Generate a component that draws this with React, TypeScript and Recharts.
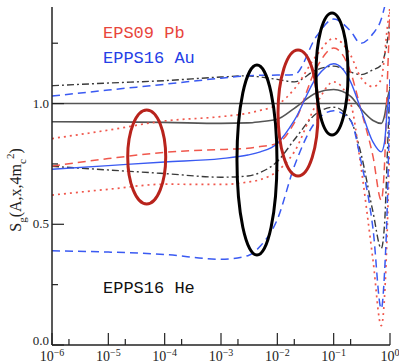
import React from "react";
import {
  LineChart,
  Line,
  XAxis,
  YAxis,
  ReferenceLine,
  ReferenceDot,
  Customized,
} from "recharts";

// x values (Bjorken x) and S_g ratios
const xs = [1e-6, 1e-5, 1e-4, 1e-3, 3e-3, 5e-3, 1e-2, 2e-2, 5e-2, 0.1, 0.2, 0.3, 0.5, 0.7, 0.8, 0.9, 1.0];

const heCentral = [0.925, 0.924, 0.922, 0.918, 0.92, 0.925, 0.935, 0.98, 1.045, 1.058, 1.03, 0.98, 0.93, 0.918, 0.95, 1.02, 1.06];
const heUpper = [1.074, 1.085, 1.095, 1.11, 1.115, 1.11, 1.1, 1.09, 1.14, 1.155, 1.13, 1.12, 1.14, 1.16, 1.2, 1.26, 1.35];
const heLower = [0.74, 0.725, 0.71, 0.695, 0.7, 0.715, 0.76, 0.85, 0.96, 0.985, 0.93, 0.8, 0.55, 0.4, 0.5, 0.8, 1.1];

const pbCentral = [0.741, 0.772, 0.798, 0.81, 0.815, 0.822, 0.835, 0.92, 1.15, 1.23, 1.13, 0.98, 0.78, 0.6, 0.75, 1.1, 1.38];
const pbUpper = [0.855, 0.89, 0.928, 0.946, 0.96, 0.972, 0.995, 1.06, 1.2, 1.27, 1.2, 1.11, 1.07, 1.1, 1.2, 1.32, 1.4];
const pbLower = [0.621, 0.645, 0.666, 0.665, 0.675, 0.685, 0.72, 0.8, 1.0, 1.09, 1.0, 0.75, 0.35, 0.08, 0.2, 0.5, 0.9];

const auCentral = [0.728, 0.743, 0.758, 0.772, 0.787, 0.8, 0.835, 0.93, 1.11, 1.165, 1.09, 0.98, 0.84, 0.8, 0.84, 0.98, 1.05];
const auUpper = [1.031, 1.056, 1.08, 1.105, 1.115, 1.117, 1.118, 1.12, 1.28, 1.35, 1.3, 1.25, 1.29, 1.35, 1.4, 1.45, 1.5];
const auLower = [0.39, 0.385, 0.375, 0.355, 0.37, 0.41, 0.52, 0.74, 0.93, 0.97, 0.93, 0.77, 0.48, 0.15, 0.3, 0.6, 1.1];

// highlighted regions: centre (x, S_g)
const ellipseX = [4.8e-5, 4.35e-3, 0.0233, 0.0935];
const ellipseY = [0.779, 0.766, 0.961, 1.123];

const xMajor = [1e-6, 1e-5, 1e-4, 1e-3, 1e-2, 1e-1, 1];
const xMinor = [2e-6, 2e-5, 2e-4, 2e-3, 2e-2, 2e-1];
const yMajor = [0, 0.5, 1.0];
const yMinor = [0.25, 0.75, 1.25];

const data = xs.map((x, i) => ({
  x,
  heC: heCentral[i],
  heU: heUpper[i],
  heL: heLower[i],
  pbC: pbCentral[i],
  pbU: pbUpper[i],
  pbL: pbLower[i],
  auC: auCentral[i],
  auU: auUpper[i],
  auL: auLower[i],
}));

const xTicks = [...xMajor, ...xMinor].sort((a, b) => a - b);
const yTicks = [...yMajor, ...yMinor].sort((a, b) => a - b);

const RED = "#f0574c";
const BLUE = "#3a5af2";
const BLACK = "#3a3a3a";
const SERIF = "'Liberation Serif', 'DejaVu Serif', serif";
const MONO = "'Liberation Mono', 'DejaVu Sans Mono', monospace";

const isMajorX = (v: number) => xMajor.some((m) => Math.abs(Math.log10(v) - Math.log10(m)) < 1e-6);
const isMajorY = (v: number) => yMajor.some((m) => Math.abs(v - m) < 1e-6);

function BottomTick(props: any) {
  const { x, y, payload } = props;
  const major = isMajorX(payload.value);
  const exp = Math.round(Math.log10(payload.value));
  return (
    <g>
      <line x1={x} x2={x} y1={y} y2={y - (major ? 12 : 6)} stroke="#222" strokeWidth={1.2} />
      {major && (
        <text x={x} y={y + 16} textAnchor="middle" fontFamily={SERIF} fontSize={14} fill="#222">
          10
          <tspan dy={-5} fontSize={10}>
            {exp < 0 ? "\u2212" + Math.abs(exp) : String(exp)}
          </tspan>
        </text>
      )}
    </g>
  );
}

function TopTick(props: any) {
  const { x, y, payload } = props;
  const major = isMajorX(payload.value);
  return <line x1={x} x2={x} y1={y} y2={y + (major ? 12 : 6)} stroke="#222" strokeWidth={1.2} />;
}

function LeftTick(props: any) {
  const { x, y, payload } = props;
  const major = isMajorY(payload.value);
  return (
    <g>
      <line x1={x} x2={x + (major ? 12 : 6)} y1={y} y2={y} stroke="#222" strokeWidth={1.2} />
      {major && (
        <text
          x={x - 3}
          y={payload.value === 0 ? y : y + 4}
          textAnchor="end"
          fontFamily={SERIF}
          fontSize={13}
          fill="#222"
        >
          {payload.value.toFixed(1)}
        </text>
      )}
    </g>
  );
}

function RightTick(props: any) {
  const { x, y, payload } = props;
  const major = isMajorY(payload.value);
  return <line x1={x} x2={x - (major ? 12 : 6)} y1={y} y2={y} stroke="#222" strokeWidth={1.2} />;
}

function YLabel() {
  return (
    <text
      x={21}
      y={190}
      transform="rotate(-90, 21, 190)"
      textAnchor="middle"
      fontFamily={SERIF}
      fontSize={16}
      fill="#222"
    >
      S
      <tspan dy={5} fontSize={11}>g</tspan>
      <tspan dy={-5}>(A,x,4m</tspan>
      <tspan dy={5} fontSize={11}>c</tspan>
      <tspan dy={-12} fontSize={11}>2</tspan>
      <tspan dy={7}>)</tspan>
    </text>
  );
}

function Labels() {
  return (
    <g fontFamily={MONO} fontSize={17}>
      <text x={103} y={38} fill="#e8453c">EPS09 Pb</text>
      <text x={103} y={63} fill="#2440e6">EPPS16 Au</text>
      <text x={103} y={293} fill="#111">EPPS16 He</text>
    </g>
  );
}

const ellipseShape = (rx: number, ry: number, color: string) => (p: any) =>
  <ellipse cx={p.cx} cy={p.cy} rx={rx} ry={ry} fill="none" stroke={color} strokeWidth={3} />;

const ELLIPSE_STYLE = [
  { rx: 19, ry: 47, color: "#b8231c" },
  { rx: 20, ry: 95, color: "#000" },
  { rx: 20, ry: 63, color: "#b8231c" },
  { rx: 16, ry: 61, color: "#000" },
];

export default function App() {
  return (
    <div style={{ position: "absolute", left: 0, top: 0, background: "#fff" }}>
      <LineChart width={399} height={363} data={data} margin={{ top: 7, right: 9, left: 0, bottom: 0 }}>
        <XAxis
          dataKey="x"
          type="number"
          scale="log"
          domain={[1e-6, 1]}
          ticks={xTicks}
          interval={0}
          tickSize={0}
          tickMargin={0}
          tickLine={false}
          tick={<BottomTick />}
          height={18}
          stroke="#222"
          strokeWidth={1.5}
          allowDataOverflow
        />
        <XAxis
          xAxisId="top"
          orientation="top"
          dataKey="x"
          type="number"
          scale="log"
          domain={[1e-6, 1]}
          ticks={xTicks}
          interval={0}
          tickSize={0}
          tickMargin={0}
          tickLine={false}
          tick={<TopTick />}
          height={0}
          stroke="#222"
          strokeWidth={1.5}
          allowDataOverflow
        />
        <YAxis
          type="number"
          domain={[0, 1.4]}
          ticks={yTicks}
          interval={0}
          tickSize={0}
          tickMargin={0}
          tickLine={false}
          tick={<LeftTick />}
          width={52}
          stroke="#222"
          strokeWidth={1.5}
          allowDataOverflow
          label={{ content: <YLabel /> }}
        />
        <YAxis
          yAxisId="right"
          orientation="right"
          type="number"
          domain={[0, 1.4]}
          ticks={yTicks}
          interval={0}
          tickSize={0}
          tickMargin={0}
          tickLine={false}
          tick={<RightTick />}
          width={0}
          stroke="#222"
          strokeWidth={1.5}
          allowDataOverflow
        />
        <ReferenceLine y={1} stroke="#555" strokeWidth={1.5} />

        <Line type="monotone" dataKey="heU" stroke={BLACK} strokeWidth={1.4} strokeDasharray="7 3 2 3" dot={false} isAnimationActive={false} />
        <Line type="monotone" dataKey="heL" stroke={BLACK} strokeWidth={1.4} strokeDasharray="7 3 2 3" dot={false} isAnimationActive={false} />
        <Line type="monotone" dataKey="heC" stroke="#555" strokeWidth={1.6} dot={false} isAnimationActive={false} />

        <Line type="monotone" dataKey="pbU" stroke={RED} strokeWidth={1.7} strokeDasharray="2 4" dot={false} isAnimationActive={false} />
        <Line type="monotone" dataKey="pbL" stroke={RED} strokeWidth={1.7} strokeDasharray="2 4" dot={false} isAnimationActive={false} />
        <Line type="monotone" dataKey="pbC" stroke={RED} strokeWidth={1.5} strokeDasharray="8 5" dot={false} isAnimationActive={false} />

        <Line type="monotone" dataKey="auU" stroke={BLUE} strokeWidth={1.5} strokeDasharray="8 5" dot={false} isAnimationActive={false} />
        <Line type="monotone" dataKey="auL" stroke={BLUE} strokeWidth={1.5} strokeDasharray="8 5" dot={false} isAnimationActive={false} />
        <Line type="monotone" dataKey="auC" stroke={BLUE} strokeWidth={1.4} dot={false} isAnimationActive={false} />

        {ellipseX.map((ex, i) => (
          <ReferenceDot
            key={i}
            x={ex}
            y={ellipseY[i]}
            ifOverflow="visible"
            shape={ellipseShape(ELLIPSE_STYLE[i].rx, ELLIPSE_STYLE[i].ry, ELLIPSE_STYLE[i].color)}
          />
        ))}
        <Customized component={Labels} />
      </LineChart>
    </div>
  );
}
